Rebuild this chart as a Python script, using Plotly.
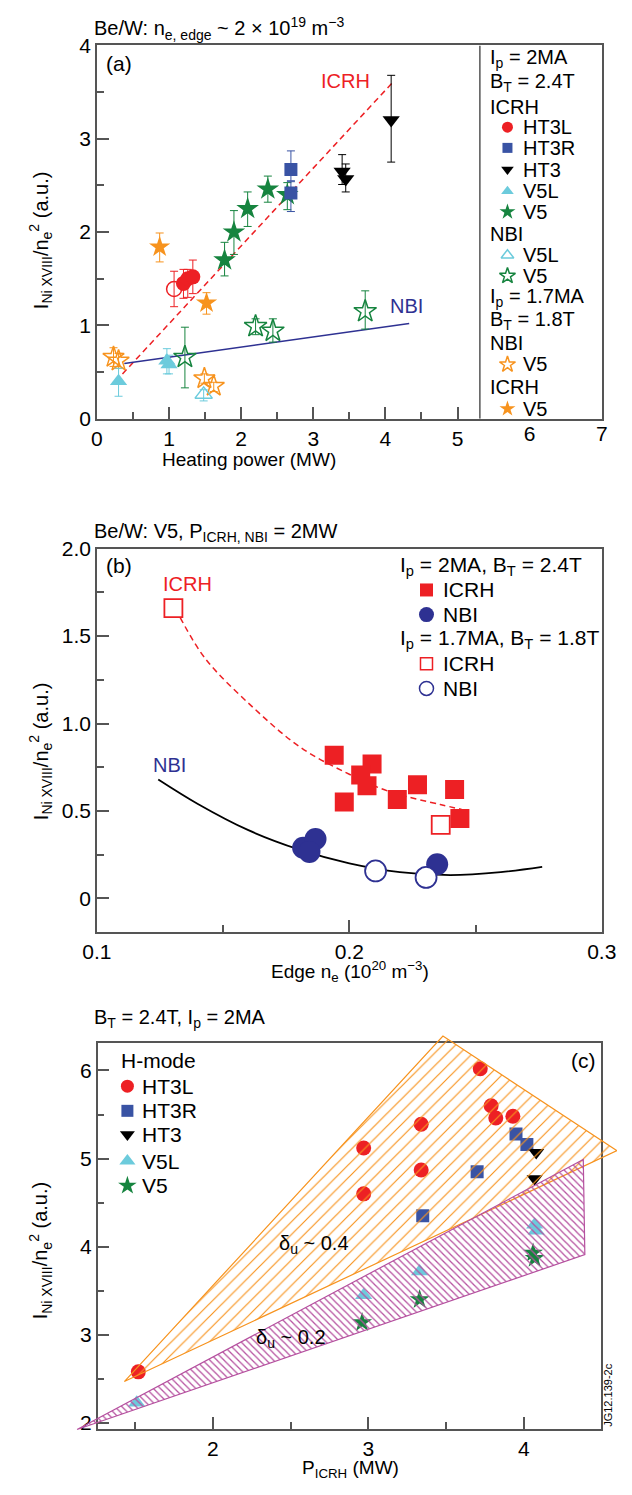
import plotly.graph_objects as go

W, H = 632, 1495
FONT = "Liberation Sans, Arial, Helvetica, sans-serif"

RED = "#ED2024"
BLUE = "#3953A4"
BLACK = "#000000"
CYAN = "#6CCBDC"
GREEN = "#16843F"
ORANGE = "#F7931E"
NAVY = "#2E3192"
MAG = "#B5509F"
AXC = "#555555"

# ---------------- Panel (a) data : heating power (MW) vs I_NiXVIII/ne^2 ----------------
a_ht3l_x = [1.20, 1.26, 1.33]
a_ht3l_y = [1.45, 1.50, 1.52]
a_ht3l_ep = [0.15, 0.10, 0.18]
a_ht3l_em = [0.16, 0.20, 0.18]

a_ht3l17_x = [1.07]
a_ht3l17_y = [1.39]
a_ht3l17_ep = [0.19]
a_ht3l17_em = [0.19]

a_ht3r_x = [2.69, 2.69]
a_ht3r_y = [2.67, 2.42]
a_ht3r_ep = [0.20, 0.12]
a_ht3r_em = [0.12, 0.20]

a_ht3_x = [3.40, 3.45, 4.08]
a_ht3_y = [2.65, 2.57, 3.20]
a_ht3_ep = [0.18, 0.16, 0.48]
a_ht3_em = [0.14, 0.14, 0.45]

a_v5l_x = [0.30, 0.97, 1.00]
a_v5l_y = [0.40, 0.62, 0.58]
a_v5l_ep = [0.14, 0.13, 0.10]
a_v5l_em = [0.16, 0.14, 0.10]

a_v5_x = [1.77, 1.90, 2.09, 2.37, 2.64]
a_v5_y = [1.70, 2.00, 2.25, 2.46, 2.40]
a_v5_ep = [0.19, 0.23, 0.18, 0.14, 0.13]
a_v5_em = [0.17, 0.24, 0.19, 0.14, 0.16]

a_nbi_v5l_x = [1.48]
a_nbi_v5l_y = [0.26]
a_nbi_v5l_ep = [0.05]
a_nbi_v5l_em = [0.07]

a_nbi_v5_x = [1.22, 2.20, 2.44, 3.72]
a_nbi_v5_y = [0.66, 0.99, 0.94, 1.15]
a_nbi_v5_ep = [0.32, 0.08, 0.13, 0.22]
a_nbi_v5_em = [0.33, 0.09, 0.12, 0.19]

a_nbi17_v5_x = [0.23, 0.30, 1.49, 1.62]
a_nbi17_v5_y = [0.66, 0.62, 0.43, 0.35]
a_nbi17_v5_ep = [0.10, 0.08, 0.05, 0.04]
a_nbi17_v5_em = [0.10, 0.08, 0.05, 0.06]

a_icrh17_v5_x = [0.87, 1.52]
a_icrh17_v5_y = [1.84, 1.24]
a_icrh17_v5_ep = [0.15, 0.11]
a_icrh17_v5_em = [0.16, 0.12]

a_icrh_fit_x = [0.26, 4.12]
a_icrh_fit_y = [0.40, 3.62]
a_nbi_fit_x = [0.38, 4.33]
a_nbi_fit_y = [0.59, 1.02]

a_xticks = [0, 1, 2, 3, 4, 5]
a_xticks_legend = [6, 7]
a_yticks = [0, 1, 2, 3, 4]

# ---------------- Panel (b) data : edge ne vs I_NiXVIII/ne^2 ----------------
b_icrh_x = [0.194, 0.209, 0.2045, 0.207, 0.198, 0.219, 0.227, 0.2417, 0.2438]
b_icrh_y = [0.818, 0.768, 0.706, 0.644, 0.551, 0.566, 0.650, 0.622, 0.457]
b_nbi_x = [0.1817, 0.1866, 0.1842, 0.2348]
b_nbi_y = [0.290, 0.340, 0.266, 0.195]
b_icrh17_x = [0.1303, 0.2362]
b_icrh17_y = [1.66, 0.421]
b_nbi17_x = [0.2104, 0.2304]
b_nbi17_y = [0.157, 0.120]

b_icrh_fit_x = [0.133, 0.143, 0.162, 0.181, 0.200, 0.216, 0.236, 0.2445]
b_icrh_fit_y = [1.606, 1.37, 1.09, 0.86, 0.71, 0.61, 0.537, 0.509]
b_nbi_fit_x = [0.1243, 0.140, 0.160, 0.180, 0.200, 0.220, 0.240, 0.260, 0.2764]
b_nbi_fit_y = [0.680, 0.540, 0.390, 0.280, 0.200, 0.150, 0.133, 0.150, 0.180]

b_xticks = [0.1, 0.2, 0.3]
b_xticktext = ["0.1", "0.2", "0.3"]
b_yticks = [0, 0.5, 1.0, 1.5, 2.0]
b_yticktext = ["0", "0.5", "1.0", "1.5", "2.0"]

# ---------------- Panel (c) data : P_ICRH vs I_NiXVIII/ne^2 (H-mode) ----------------
c_ht3l_x = [1.52, 2.97, 2.97, 3.34, 3.34, 3.72, 3.79, 3.82, 3.93]
c_ht3l_y = [2.58, 4.60, 5.12, 4.87, 5.39, 6.02, 5.60, 5.46, 5.48]
c_ht3r_x = [3.35, 3.70, 3.95, 4.02]
c_ht3r_y = [4.35, 4.85, 5.28, 5.16]
c_ht3_x = [4.08, 4.07]
c_ht3_y = [5.07, 4.77]
c_v5l_x = [1.51, 2.97, 3.33, 4.07, 4.08]
c_v5l_y = [2.23, 3.45, 3.72, 4.25, 4.18]
c_v5_x = [2.96, 3.33, 4.06, 4.07]
c_v5_y = [3.14, 3.40, 3.93, 3.87]

c_delta04_x = [1.43, 3.48, 4.60, 1.43]
c_delta04_y = [2.47, 6.39, 5.09, 2.47]
c_delta02_x = [1.126, 4.383, 4.393, 1.126]
c_delta02_y = [1.926, 4.99, 3.91, 1.926]

c_xticks = [2, 3, 4]
c_yticks = [2, 3, 4, 5, 6]

# ---------------- layout geometry (pixels) ----------------
A_X = (86, 616); A_Y = (34, 413); A_XR = [0, 7]; A_YR = [0, 4]
B_X = (86, 616); B_Y = (545, 934); B_XR = [0.1, 0.3]; B_YR = [-0.19, 2.0]
C_X = (86.7, 615.7); C_Y = (1047, 1439); C_XR = [1.258, 4.50]; C_YR = [1.933, 6.313]


def xd(p):
    return [p[0] / W, p[1] / W]


def yd(p):
    return [1 - p[1] / H, 1 - p[0] / H]


fig = go.Figure()


def pts(x, y, xa, ya, symbol, color, size, ep=None, em=None, lw=1.5):
    kw = {}
    if ep is not None:
        kw["error_y"] = dict(type="data", symmetric=False, array=ep, arrayminus=em,
                             color=color, thickness=1, width=4)
    fig.add_trace(go.Scatter(
        x=x, y=y, xaxis=xa, yaxis=ya, mode="markers", showlegend=False, hoverinfo="skip",
        marker=dict(symbol=symbol, color=color, size=size,
                    line=dict(width=lw if "open" in symbol else 0, color=color)),
        **kw))


def line(x, y, xa, ya, color, width=1.5, dash="solid", shape="linear"):
    fig.add_trace(go.Scatter(x=x, y=y, xaxis=xa, yaxis=ya, mode="lines", showlegend=False,
                             hoverinfo="skip",
                             line=dict(color=color, width=width, dash=dash, shape=shape)))


# ---- panel (a) traces ----
line(a_icrh_fit_x, a_icrh_fit_y, "x", "y", RED, 1.5, "6px,4px")
line(a_nbi_fit_x, a_nbi_fit_y, "x", "y", NAVY, 1.5)
pts(a_nbi17_v5_x, a_nbi17_v5_y, "x", "y", "star-open", ORANGE, 16, a_nbi17_v5_ep, a_nbi17_v5_em)
pts(a_icrh17_v5_x, a_icrh17_v5_y, "x", "y", "star", ORANGE, 16, a_icrh17_v5_ep, a_icrh17_v5_em)
pts(a_nbi_v5l_x, a_nbi_v5l_y, "x", "y", "triangle-up-open", CYAN, 15, a_nbi_v5l_ep, a_nbi_v5l_em)
pts(a_nbi_v5_x, a_nbi_v5_y, "x", "y", "star-open", GREEN, 17, a_nbi_v5_ep, a_nbi_v5_em)
pts(a_ht3l17_x, a_ht3l17_y, "x", "y", "circle-open", RED, 15, a_ht3l17_ep, a_ht3l17_em)
pts(a_v5l_x, a_v5l_y, "x", "y", "triangle-up", CYAN, 15, a_v5l_ep, a_v5l_em)
pts(a_ht3l_x, a_ht3l_y, "x", "y", "circle", RED, 15, a_ht3l_ep, a_ht3l_em)
pts(a_v5_x, a_v5_y, "x", "y", "star", GREEN, 17, a_v5_ep, a_v5_em)
pts(a_ht3r_x, a_ht3r_y, "x", "y", "square", BLUE, 13, a_ht3r_ep, a_ht3r_em)
pts(a_ht3_x, a_ht3_y, "x", "y", "triangle-down", BLACK, 15, a_ht3_ep, a_ht3_em)
# empty trace for the overlay axis carrying tick labels 6 and 7
fig.add_trace(go.Scatter(x=[], y=[], xaxis="x6", yaxis="y", showlegend=False))

# ---- panel (b) traces ----
line(b_icrh_fit_x, b_icrh_fit_y, "x2", "y2", RED, 1.5, "6px,4px", "spline")
line(b_nbi_fit_x, b_nbi_fit_y, "x2", "y2", BLACK, 1.8, "solid", "spline")
pts(b_icrh_x, b_icrh_y, "x2", "y2", "square", RED, 19)
pts(b_nbi_x, b_nbi_y, "x2", "y2", "circle", NAVY, 22)
fig.add_trace(go.Scatter(x=b_nbi17_x, y=b_nbi17_y, xaxis="x2", yaxis="y2", mode="markers",
                         showlegend=False, hoverinfo="skip",
                         marker=dict(symbol="circle", color="white", size=21,
                                     line=dict(width=1.8, color=NAVY))))
fig.add_trace(go.Scatter(x=b_icrh17_x, y=b_icrh17_y, xaxis="x2", yaxis="y2", mode="markers",
                         showlegend=False, hoverinfo="skip",
                         marker=dict(symbol="square", color="white", size=18,
                                     line=dict(width=1.8, color=RED))))

# ---- panel (c) traces ----
pts(c_ht3l_x, c_ht3l_y, "x3", "y3", "circle", RED, 15)
pts(c_ht3r_x, c_ht3r_y, "x3", "y3", "square", BLUE, 13)
pts(c_ht3_x, c_ht3_y, "x3", "y3", "triangle-down", BLACK, 14)
pts(c_v5l_x, c_v5l_y, "x3", "y3", "triangle-up", CYAN, 15)
pts(c_v5_x, c_v5_y, "x3", "y3", "star", GREEN, 15)

# hatched regions on an overlay axis with identical scale but larger extent (not clipped)
sx = (C_X[1] - C_X[0]) / (C_XR[1] - C_XR[0])
sy = (C_Y[1] - C_Y[0]) / (C_YR[1] - C_YR[0])
OV_X = (30, 632)
OV_Y = (1028, 1462)
ov_xr = [C_XR[0] - (C_X[0] - OV_X[0]) / sx, C_XR[0] + (OV_X[1] - C_X[0]) / sx]
ov_yr = [C_YR[0] - (OV_Y[1] - C_Y[1]) / sy, C_YR[1] + (C_Y[0] - OV_Y[0]) / sy]

fig.add_trace(go.Scatter(x=c_delta04_x, y=c_delta04_y, xaxis="x4", yaxis="y4", mode="lines",
                         fill="toself", fillcolor="rgba(0,0,0,0)", showlegend=False, hoverinfo="skip",
                         line=dict(color=ORANGE, width=1.2),
                         fillpattern=dict(shape="/", fgcolor=ORANGE, bgcolor="rgba(0,0,0,0)",
                                          size=9, solidity=0.13, fillmode="replace")))
fig.add_trace(go.Scatter(x=c_delta02_x, y=c_delta02_y, xaxis="x4", yaxis="y4", mode="lines",
                         fill="toself", fillcolor="rgba(0,0,0,0)", showlegend=False, hoverinfo="skip",
                         line=dict(color=MAG, width=1.2),
                         fillpattern=dict(shape="\\", fgcolor=MAG, bgcolor="rgba(0,0,0,0)",
                                          size=5, solidity=0.25, fillmode="replace")))

# ---------------- hand-made legends (glyphs on a pixel overlay axis) ----------------
LEG_A = dict(head_x=498, glyph_x=517, text_x=532, size=20, rows=[
    ("I<sub>p</sub> = 2MA", 47, None),
    ("B<sub>T</sub> = 2.4T", 72, None),
    ("ICRH", 96, None),
    ("HT3L", 117, ("circle", RED, 11)),
    ("HT3R", 138, ("square", BLUE, 10)),
    ("HT3", 160, ("triangle-down", BLACK, 11)),
    ("V5L", 182, ("triangle-up", CYAN, 11)),
    ("V5", 203, ("star", GREEN, 12)),
    ("NBI", 225, None),
    ("V5L", 247, ("triangle-up-open", CYAN, 11)),
    ("V5", 268, ("star-open", GREEN, 12)),
    ("I<sub>p</sub> = 1.7MA", 290, None),
    ("B<sub>T</sub> = 1.8T", 313, None),
    ("NBI", 336, None),
    ("V5", 358, ("star-open", ORANGE, 12)),
    ("ICRH", 381, None),
    ("V5", 403, ("star", ORANGE, 12)),
])
LEG_B = dict(head_x=403, glyph_x=432, text_x=448, size=21, rows=[
    ("I<sub>p</sub> = 2MA, B<sub>T</sub> = 2.4T", 563, None),
    ("ICRH", 587, ("square", RED, 13)),
    ("NBI", 612, ("circle", NAVY, 15)),
    ("I<sub>p</sub> = 1.7MA, B<sub>T</sub> = 1.8T", 637, None),
    ("ICRH", 662, ("square-open", RED, 12)),
    ("NBI", 687, ("circle-open", NAVY, 14)),
])
LEG_C = dict(head_x=110, glyph_x=118, text_x=132, size=21, rows=[
    ("H-mode", 1065, None),
    ("HT3L", 1091, ("circle", RED, 13)),
    ("HT3R", 1116, ("square", BLUE, 12)),
    ("HT3", 1140, ("triangle-down", BLACK, 13)),
    ("V5L", 1167, ("triangle-up", CYAN, 14)),
    ("V5", 1192, ("star", GREEN, 14)),
])


def ann(text, px, py, size=21, color="black", xanchor="left", yanchor="middle", angle=0):
    fig.add_annotation(text=text, x=px / W, y=1 - py / H, xref="paper", yref="paper",
                       showarrow=False, xanchor=xanchor, yanchor=yanchor, textangle=angle,
                       borderpad=0, font=dict(size=size, color=color, family=FONT))


for leg in (LEG_A, LEG_B, LEG_C):
    for text, py, glyph in leg["rows"]:
        if glyph is None:
            ann(text, leg["head_x"], py, size=leg["size"])
        else:
            sym, col, sz = glyph
            hollow = sym in ("square-open", "circle-open")
            ann(text, leg["text_x"], py, size=leg["size"])
            fig.add_trace(go.Scatter(
                x=[leg["glyph_x"]], y=[py], xaxis="x5", yaxis="y5", mode="markers",
                showlegend=False, hoverinfo="skip", cliponaxis=False,
                marker=dict(symbol=sym.replace("-open", "") if hollow else sym,
                            color="white" if hollow else col, size=sz,
                            line=dict(width=1.5 if "open" in sym else 0, color=col))))

# ---------------- text annotations ----------------
# titles
ann("Be/W: n<sub>e, edge</sub> ~ 2 × 10<sup>19</sup> m<sup>−3</sup>", 82, 17, size=20)
ann("Be/W: V5, P<sub>ICRH, NBI</sub> = 2MW", 82, 529, size=20)
ann("B<sub>T</sub> = 2.4T, I<sub>p</sub> = 2MA", 82, 1022, size=20)
# panel labels
ann("(a)", 95, 52)
ann("(b)", 95, 562)
ann("(c)", 611, 1065, xanchor="right")
# axis titles
YT = "I<sub>Ni XVIII</sub>/n<sub>e</sub><sup>2</sup> (a.u.)"
ann(YT, 27, 232, size=20, xanchor="center", angle=-90)
ann(YT, 27, 751, size=20, xanchor="center", angle=-90)
ann(YT, 27, 1258, size=20, xanchor="center", angle=-90)
ann("Heating power (MW)", 246, 454, size=19, xanchor="center")
ann("Edge n<sub>e</sub> (10<sup>20</sup> m<sup>−3</sup>)", 352, 974, size=19, xanchor="center")
ann("P<sub>ICRH</sub> (MW)", 352, 1480, size=19, xanchor="center")
ann("JG12.139-2c", 623, 1405, size=11, xanchor="center", angle=-90)


def dann(text, x, y, xa, ya, color="black", size=20):
    fig.add_annotation(text=text, x=x, y=y, xref=xa, yref=ya, showarrow=False,
                       xanchor="center", yanchor="middle", borderpad=0,
                       font=dict(size=size, color=color, family=FONT))


dann("ICRH", 3.45, 3.62, "x", "y", RED)
dann("NBI", 4.29, 1.21, "x", "y", NAVY)
dann("ICRH", 0.1357, 1.80, "x2", "y2", RED)
dann("NBI", 0.1289, 0.76, "x2", "y2", NAVY)
dann("δ<sub>u</sub> ~ 0.4", 2.65, 4.02, "x3", "y3")
dann("δ<sub>u</sub> ~ 0.2", 2.50, 2.96, "x3", "y3")

# legend divider in panel (a)
fig.add_shape(type="line", x0=5.31, x1=5.31, y0=0, y1=4, xref="x", yref="y",
              line=dict(color=AXC, width=1.5))

# ---------------- axes ----------------
TICKFONT = dict(size=21, color="black", family=FONT)


def axis(domain, rng, tickvals, ticktext, minor_vals, anchor):
    d = dict(domain=domain, range=rng, anchor=anchor, showline=True, mirror=True,
             linecolor=AXC, linewidth=1.5, showgrid=False, zeroline=False,
             tickmode="array", tickvals=tickvals, ticktext=ticktext,
             ticks="inside", ticklen=12, tickwidth=1.5, tickcolor=AXC,
             tickfont=TICKFONT, fixedrange=True)
    if minor_vals:
        d["minor"] = dict(tickmode="array", tickvals=minor_vals, ticks="inside",
                          ticklen=7, tickwidth=1.5, tickcolor=AXC, showgrid=False)
    return d


def halves(ticks):
    return [t + (ticks[1] - ticks[0]) / 2 for t in ticks[:-1]]


fig.update_layout(
    width=W, height=H, margin=dict(l=0, r=0, t=0, b=0),
    paper_bgcolor="white", plot_bgcolor="rgba(0,0,0,0)", showlegend=False,
    font=dict(family=FONT, color="black"),
    xaxis=axis(xd(A_X), A_XR, a_xticks, [str(t) for t in a_xticks], halves(a_xticks), "y"),
    yaxis=axis(yd(A_Y), A_YR, a_yticks, [str(t) for t in a_yticks], halves(a_yticks), "x"),
    xaxis6=dict(overlaying="x", anchor="y", range=A_XR, side="bottom", showline=False,
                showgrid=False, zeroline=False, tickmode="array", tickvals=a_xticks_legend,
                ticktext=[str(t) for t in a_xticks_legend], ticks="", tickfont=TICKFONT,
                fixedrange=True),
    xaxis2=axis(xd(B_X), B_XR, b_xticks, b_xticktext, halves(b_xticks), "y2"),
    yaxis2=axis(yd(B_Y), B_YR, b_yticks, b_yticktext, halves(b_yticks), "x2"),
    xaxis3=axis(xd(C_X), C_XR, c_xticks, [str(t) for t in c_xticks], [1.5, 2.5, 3.5], "y3"),
    yaxis3=axis(yd(C_Y), C_YR, c_yticks, [str(t) for t in c_yticks], halves(c_yticks), "x3"),
    xaxis4=dict(domain=xd(OV_X), range=ov_xr, anchor="y4", visible=False, fixedrange=True),
    yaxis4=dict(domain=yd(OV_Y), range=ov_yr, anchor="x4", visible=False, fixedrange=True),
    xaxis5=dict(domain=[0, 1], range=[0, W], anchor="y5", visible=False, fixedrange=True),
    yaxis5=dict(domain=[0, 1], range=[H, 0], anchor="x5", visible=False, fixedrange=True),
)

fig.write_html("out.html")
